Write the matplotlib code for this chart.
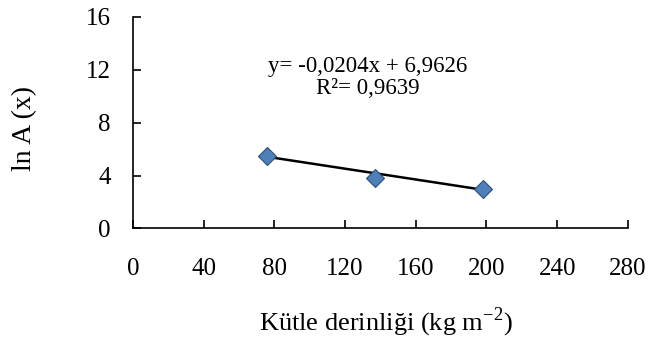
import numpy as np
import matplotlib
matplotlib.use("Agg")
import matplotlib.pyplot as plt

# Data
mass_depth = [76, 137, 198]
ln_a = [5.5, 3.8, 2.95]

# Trend line as printed on the chart
slope = -0.0204
intercept = 6.9626
r_squared = 0.9639

x_ticks = [0, 40, 80, 120, 160, 200, 240, 280]
y_ticks = [0, 4, 8, 12, 16]

plt.rcParams['font.family'] = ['Liberation Serif', 'DejaVu Serif']
plt.rcParams['mathtext.fontset'] = 'custom'
plt.rcParams['mathtext.rm'] = 'Liberation Serif'

fig = plt.figure(figsize=(6.48, 3.38), dpi=100)
ax = fig.add_axes([0.2052, 0.324, 0.7638, 0.627])

# Trend line over the range of the data
x_fit = np.array([min(mass_depth), max(mass_depth)])
ax.plot(x_fit, slope * x_fit + intercept, color='black', linewidth=1.8, zorder=2)

# Data points
ax.plot(mass_depth, ln_a, linestyle='none', marker='D', markersize=9.5,
        markerfacecolor='#4f7fb8', markeredgecolor='#2b4f7e', markeredgewidth=0.8, zorder=3)

ax.set_xlim(0, 280)
ax.set_ylim(0, 16)
ax.set_xticks(x_ticks)
ax.set_yticks(y_ticks)

ax.spines['top'].set_visible(False)
ax.spines['right'].set_visible(False)
for side in ['left', 'bottom']:
    ax.spines[side].set_linewidth(1.2)

ax.tick_params(axis='x', direction='in', length=6, width=1.2, pad=21, labelsize=18)
ax.tick_params(axis='y', direction='in', length=6, width=1.2, pad=16, labelsize=18)

ax.set_xlabel(r'Kütle derinliği (kg m$^{\mathregular{-2}}$)', fontsize=19)
ax.xaxis.set_label_coords(0.51, -0.365)
ax.set_ylabel('ln A (x)', fontsize=20, va='center')
ax.yaxis.set_label_coords(-0.218, 0.472)

eq = 'y= -0,0204x + 6,9626'
ax.text(0.475, 0.765, eq, transform=ax.transAxes, ha='center', va='center', fontsize=16.5)
ax.text(0.475, 0.66, 'R²= %s' % str(r_squared).replace('.', ','), transform=ax.transAxes,
        ha='center', va='center', fontsize=16.5)

fig.savefig('out.png', dpi=100)
